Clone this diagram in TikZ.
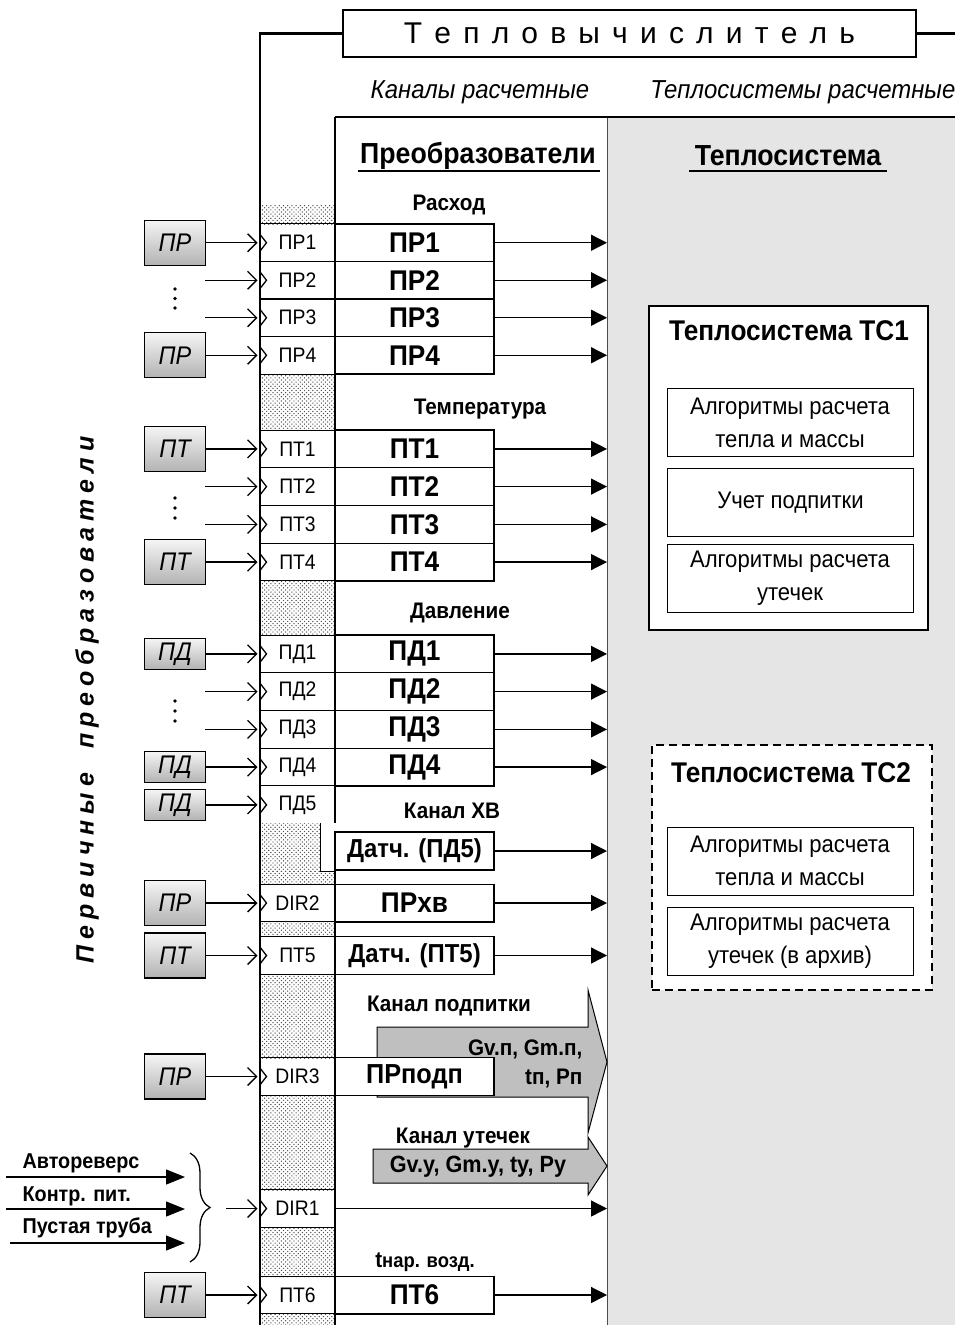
\documentclass[tikz,border=0pt]{standalone}
\usepackage{fontspec}
\setmainfont{Liberation Sans}[FakeStretch=0.92]
\newfontfamily\widefont{Liberation Sans}
\usetikzlibrary{positioning,arrows.meta,calc,patterns,decorations.pathreplacing}
\newcommand\fsz[2]{\fontsize{#1}{#2}\selectfont}
\pgfdeclarepatternformonly{hdots}{\pgfqpoint{-1pt}{-1pt}}{\pgfqpoint{5pt}{5pt}}{\pgfqpoint{4.2pt}{4.2pt}}{%
  \pgfpathcircle{\pgfqpoint{0pt}{0pt}}{0.7pt}%
  \pgfpathcircle{\pgfqpoint{2.1pt}{2.1pt}}{0.7pt}%
  \pgfusepath{fill}}

\begin{document}
\begin{tikzpicture}[
  x=1pt, y=-1pt,
  line width=1.2pt,
  cell/.style={draw, line width=1pt, minimum width=75pt, minimum height=37.7pt, inner sep=0pt, font=\fsz{21}{23}},
  conv/.style={draw, fill=white, line width=1.3pt, minimum width=159pt, minimum height=37.7pt, inner sep=0pt, font=\fsz{28.5}{30}\bfseries},
  sens/.style={draw, line width=1.3pt, top color=gray!8, bottom color=gray!60, minimum width=61pt, minimum height=45pt, inner sep=0pt, font=\fsz{25.5}{27}\itshape},
  sensd/.style={sens, minimum height=31pt},
  head/.style={font=\fsz{22.5}{24}\bfseries, inner sep=0pt},
  lab/.style={font=\fsz{26}{28}\itshape, inner sep=0pt},
  big/.style={font=\fsz{28.5}{30}\bfseries, inner sep=0pt},
  alg/.style={draw, fill=white, line width=1pt, minimum width=246pt, minimum height=68pt, inner sep=0pt, align=center, font=\fsz{24}{33}},
  tsys/.style={draw, fill=white, line width=1.6pt},
  hatch/.style={pattern=hdots, pattern color=gray!60!black},
  into/.style={-{Straight Barb[length=9pt,width=18pt]}, line width=1.3pt, shorten >=2pt},
  tosys/.style={-{Triangle[length=16pt,width=16pt]}, line width=1.3pt},
  sig/.style={-{Triangle[length=19pt,width=15pt]}, line width=1.3pt},
  garrow/.style={fill=gray!50, draw, line width=1pt},
  notch/.style={line width=1.3pt}
]
  \useasboundingbox (0,0) rectangle (955,1325);

  % --- background: computed channels / heat systems -----------------------
  \fill[gray!20] (607,117) rectangle (955,1325);
  \draw[line width=1pt, gray!60!black] (607,117) -- (607,1325);
  \draw[line width=1.3pt] (335,117) -- (955,117);
  \coordinate (sysL) at (607,0);
  \coordinate (inL) at (205,0);
  \coordinate (edgeR) at (955,0);
  \coordinate (colB) at (260,1325);

  \node[draw, line width=2.6pt, minimum width=573pt, minimum height=47pt, inner sep=0pt,
        font=\widefont\fsz{30}{32}] (title) at (629.5,33.5)
    {\spaceskip=12.2pt\relax Т е п л о в ы ч и с л и т е л ь};

  \node[lab] (lchan) at (480,92) {Каналы расчетные};
  \node[lab, anchor=east] (lsys) at (956,92) {Теплосистемы расчетные};

  \node[big, font=\fsz{29}{31}\bfseries] (hconv) at (478,156) {Преобразователи};
  \draw[line width=1.3pt] (358,171) -- (600,171);
  \node[big, font=\fsz{29}{31}\bfseries] (hsys) at (788,156) {Теплосистема};
  \draw[line width=1.3pt] (689,171) -- (887,171);

  % --- hatched gaps of the input column ------------------------------------
  \foreach \ya/\yb in {205/224, 374/430, 581/635, 871/884, 922/937, 974/1058,
                       1095/1190, 1227/1277, 1313/1325}
    \path[hatch] (260,\ya) rectangle (335,\yb);
  \path[hatch] (260,823) rectangle (320,871);
  \draw[line width=1pt] (320,823) -- (320,871) -- (335,871);

  % --- flow ------------------------------------------------------------------
  \node[head] (hflow) at (449,205) {Расход};
  \foreach \i/\yc in {1/242.75, 2/280.25, 3/317.75, 4/355.25} {
    \node[cell] (cpr\i) at (297.5,\yc) {ПР\i};
    \node[conv] (bpr\i) at (414.5,\yc) {ПР\i};
    \draw[notch] (cpr\i.west) ++(0,-9) -- ++(7,9) -- ++(-7,9);
    \draw[tosys] (bpr\i.east) -- (bpr\i.east -| sysL);
  }
  \node[sens] (spr1) at (175,242.75) {ПР};
  \node[sens] (spr4) at (175,355.25) {ПР};
  \draw[into] (spr1.east) -- (cpr1.west);
  \draw[into] (cpr2.west -| inL) -- (cpr2.west);
  \draw[into] (cpr3.west -| inL) -- (cpr3.west);
  \draw[into] (spr4.east) -- (cpr4.west);

  % --- temperature -------------------------------------------------------------
  \node[head] (htemp) at (480,409) {Температура};
  \foreach \i/\yc in {1/448.9, 2/486.6, 3/524.4, 4/562.1} {
    \node[cell] (cpt\i) at (297.5,\yc) {ПТ\i};
    \node[conv] (bpt\i) at (414.5,\yc) {ПТ\i};
    \draw[notch] (cpt\i.west) ++(0,-9) -- ++(7,9) -- ++(-7,9);
    \draw[tosys] (bpt\i.east) -- (bpt\i.east -| sysL);
  }
  \node[sens] (spt1) at (175,448.9) {ПТ};
  \node[sens] (spt4) at (175,562.1) {ПТ};
  \draw[into] (spt1.east) -- (cpt1.west);
  \draw[into] (cpt2.west -| inL) -- (cpt2.west);
  \draw[into] (cpt3.west -| inL) -- (cpt3.west);
  \draw[into] (spt4.east) -- (cpt4.west);

  % --- pressure ------------------------------------------------------------------
  \node[head] (hpres) at (460,613) {Давление};
  \foreach \i/\yc in {1/653.9, 2/691.6, 3/729.4, 4/767.1} {
    \node[cell] (cpd\i) at (297.5,\yc) {ПД\i};
    \node[conv] (bpd\i) at (414.5,\yc) {ПД\i};
    \draw[notch] (cpd\i.west) ++(0,-9) -- ++(7,9) -- ++(-7,9);
    \draw[tosys] (bpd\i.east) -- (bpd\i.east -| sysL);
  }
  \node[sensd] (spd1) at (175,653.9) {ПД};
  \node[sensd] (spd4) at (175,767.1) {ПД};
  \draw[into] (spd1.east) -- (cpd1.west);
  \draw[into] (cpd2.west -| inL) -- (cpd2.west);
  \draw[into] (cpd3.west -| inL) -- (cpd3.west);
  \draw[into] (spd4.east) -- (cpd4.west);

  \foreach \yy in {289,298.5,308, 498,508,518, 701,711,721}
    \fill (175,\yy) circle (1.8pt);

  % --- cold water channel --------------------------------------------------------
  \node[head] (hcw) at (452,811) {Канал ХВ};
  \node[cell, draw=none] (cpd5) at (297.5,804.9) {ПД5};
  \draw[notch] (cpd5.west) ++(0,-9) -- ++(7,9) -- ++(-7,9);
  \node[sensd] (spd5) at (175,804.9) {ПД};
  \draw[into] (spd5.east) -- (cpd5.west);
  \node[conv, font=\fsz{26}{28}\bfseries, minimum height=38pt] (bpd5) at (414.5,851) {Датч. (ПД5)};
  \draw[tosys] (bpd5.east) -- (bpd5.east -| sysL);

  \node[cell] (cdir2) at (297.5,903) {DIR2};
  \node[conv] (bcw) at (414.5,903) {ПРхв};
  \draw[notch] (cdir2.west) ++(0,-9) -- ++(7,9) -- ++(-7,9);
  \draw[tosys] (bcw.east) -- (bcw.east -| sysL);
  \node[sens] (sdir2) at (175,903) {ПР};
  \draw[into] (sdir2.east) -- (cdir2.west);

  \node[cell] (cpt5) at (297.5,955.5) {ПТ5};
  \node[conv, font=\fsz{26}{28}\bfseries] (bpt5) at (414.5,955.5) {Датч. (ПТ5)};
  \draw[notch] (cpt5.west) ++(0,-9) -- ++(7,9) -- ++(-7,9);
  \draw[tosys] (bpt5.east) -- (bpt5.east -| sysL);
  \node[sens] (spt5) at (175,955.5) {ПТ};
  \draw[into] (spt5.east) -- (cpt5.west);

  % --- make-up channel -----------------------------------------------------------
  \node[head] (hmk) at (449,1006) {Канал подпитки};
  \draw[garrow] (377,1027) -- (588,1027) -- (588,990) -- (607,1062)
    -- (588,1133) -- (588,1097) -- (377,1097) -- cycle;
  \node[head, anchor=base east] (vmk1) at (583,1055) {Gv.п, Gm.п,};
  \node[head, anchor=base east] (vmk2) at (583,1084) {tп, Pп};
  \node[cell] (cdir3) at (297.5,1076.5) {DIR3};
  \node[conv, font=\fsz{27.5}{29}\bfseries] (bmk) at (414.5,1076.5) {ПРподп};
  \draw[notch] (cdir3.west) ++(0,-9) -- ++(7,9) -- ++(-7,9);
  \node[sens] (sdir3) at (175,1076.5) {ПР};
  \draw[into] (sdir3.east) -- (cdir3.west);

  % --- leak channel --------------------------------------------------------------
  \node[head] (hlk) at (463,1138) {Канал утечек};
  \draw[garrow] (373,1149) -- (588,1149) -- (588,1137) -- (607,1166)
    -- (588,1195) -- (588,1183) -- (373,1183) -- cycle;
  \node[head, font=\fsz{23.5}{25}\bfseries] (vlk) at (478,1167) {Gv.у, Gm.у, tу, Pу};

  % --- DIR1 discrete inputs ------------------------------------------------------
  \node[cell] (cdir1) at (297.5,1208.5) {DIR1};
  \draw[notch] (cdir1.west) ++(0,-9) -- ++(7,9) -- ++(-7,9);
  \draw[tosys] (cdir1.east) -- (cdir1.east -| sysL);
  \node[head, font=\fsz{21.5}{23}\bfseries, anchor=base west] (lrev) at (22,1168) {Автореверс};
  \node[head, font=\fsz{21.5}{23}\bfseries, anchor=base west] (lpow) at (22,1201) {Контр. пит.};
  \node[head, font=\fsz{21.5}{23}\bfseries, anchor=base west] (lemp) at (22,1233) {Пустая труба};
  \coordinate (brcL) at (185,0);
  \coordinate (l1) at (6,1177);
  \coordinate (l2) at (6,1209);
  \coordinate (l3) at (10,1243);
  \draw[sig] (l1) -- (l1 -| brcL);
  \draw[sig] (l2) -- (l2 -| brcL);
  \draw[sig] (l3) -- (l3 -| brcL);
  \draw[decorate, decoration={brace, amplitude=20pt}, line width=1.3pt] (190,1153) -- (190,1262);
  \coordinate (brc) at (226,1208.5);
  \draw[into] (brc) -- (cdir1.west);

  % --- outdoor air temperature -----------------------------------------------------
  \node[head] (hair) at (425,1262) {t{\fsz{20}{22}нар. возд.}};
  \node[cell] (cpt6) at (297.5,1295) {ПТ6};
  \node[conv] (bpt6) at (414.5,1295) {ПТ6};
  \draw[notch] (cpt6.west) ++(0,-9) -- ++(7,9) -- ++(-7,9);
  \draw[tosys] (bpt6.east) -- (bpt6.east -| sysL);
  \node[sens] (spt6) at (175,1295) {ПТ};
  \draw[into] (spt6.east) -- (cpt6.west);

  % --- frame lines on top -------------------------------------------------------------
  \draw[line width=2.6pt] (title.west) -| (colB);
  \draw[line width=2.6pt] (title.east) -- (title.east -| edgeR);
  \draw[line width=1.3pt] (335,117) -- (335,823);
  \draw[line width=1.3pt] (335,832) -- (335,1325);

  \node[rotate=90, font=\widefont\bfseries\itshape\fsz{25}{27}] (vtxt) at (87,700)
    {\spaceskip=6pt\relax П е р в и ч н ы е \ \ \ п р е о б р а з о в а т е л и};

  % --- heat systems ----------------------------------------------------------------------
  \node[tsys, minimum width=279pt, minimum height=324pt] (tc1) at (788.5,468) {};
  \node[big] (tc1t) at (789,331) {Теплосистема ТС1};
  \node[alg] (alg1) at (790,422.5) {Алгоритмы расчета\\тепла и массы};
  \node[alg, line width=1.6pt] (mk1) at (790.5,502.5) {Учет подпитки};
  \node[alg] (lk1) at (790,578) {Алгоритмы расчета\\утечек};

  \node[tsys, dash pattern=on 8pt off 5pt, minimum width=280pt, minimum height=245pt] (tc2) at (792,867.5) {};
  \node[big] (tc2t) at (791,773) {Теплосистема ТС2};
  \node[alg] (alg2) at (790,861) {Алгоритмы расчета\\тепла и массы};
  \node[alg] (lk2) at (790,941) {Алгоритмы расчета\\утечек (в архив)};
\end{tikzpicture}
\end{document}
